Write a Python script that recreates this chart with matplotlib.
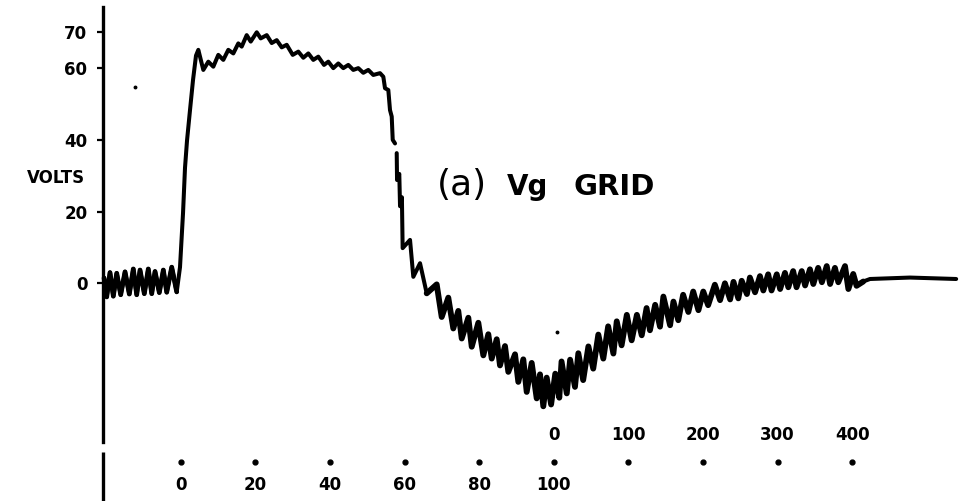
import numpy as np
import matplotlib
matplotlib.use("Agg")
import matplotlib.pyplot as plt

# ---- data (time in lower-scale units, volts) ----
baseline_t = [-20.56, -19.84, -18.96, -18.07, -17.16, -16.09, -14.93, -13.78, -12.71, -11.80,
              -10.91, -9.76, -8.69, -7.77, -6.89, -5.74, -4.66, -3.75, -2.41, -1.07]
baseline_v = [1.5, -3.8, 3.0, -3.6, 2.8, -3.2, 3.2, -3.0, 4.0, -3.2,
              3.7, -2.9, 4.0, -2.9, 3.3, -2.6, 3.7, -2.5, 4.5, -2.4]

rise_t = [-0.19, 0.62, 1.15, 1.69, 2.49, 3.30, 4.10]
rise_v = [4.5, 19.6, 32.2, 39.8, 48.3, 56.7, 63.5]

plateau_t = [4.72, 6.06, 7.40, 8.74, 10.08, 11.42, 12.76, 14.10, 15.44, 16.35,
             17.69, 18.77, 20.38, 21.45, 23.06, 24.40, 25.74, 27.08, 28.42, 30.03,
             31.53, 32.87, 34.21, 35.55, 36.89, 38.42, 39.57, 40.91, 42.25, 43.59,
             44.93, 46.27, 47.61, 48.95, 50.29, 51.63, 53.43, 54.32]
plateau_v = [65.1, 59.5, 61.8, 60.4, 63.7, 62.3, 65.1, 64.1, 66.9, 66.0,
             69.2, 67.4, 70.0, 68.3, 69.2, 67.0, 67.8, 65.8, 66.5, 63.7,
             64.6, 62.9, 64.1, 62.3, 63.2, 60.9, 61.8, 60.0, 61.3, 60.0,
             60.9, 59.5, 60.0, 58.7, 59.5, 58.1, 58.6, 57.6]

fall_t = [54.77, 55.66, 56.11, 56.57, 56.84, 57.46, np.nan,
          57.91, 58.00, 58.60, 58.80, 59.30, 59.50, 61.48, 62.36, 64.16, 65.95]
fall_v = [54.4, 53.9, 48.3, 46.5, 40.0, 39.0, np.nan,
          36.3, 28.8, 30.5, 21.5, 24.0, 9.8, 12.1, 1.8, 5.6, -2.8]

descent_t = [65.95, 68.63, 69.97, 71.74, 73.08, 74.42, 75.34, 77.11, 78.02, 79.79, 81.13,
             82.47, 83.38, 84.72, 85.60, 86.94, 87.83, 89.63, 90.51, 91.85, 92.76,
             94.10, 95.44, 96.33, 97.21, 98.12, 99.30]
descent_v = [-2.8, -0.3, -9.4, -4.0, -12.6, -7.7, -15.4, -9.6, -17.7, -11.0, -20.1,
             -14.2, -21.0, -15.6, -22.9, -17.5, -24.7, -19.8, -27.5, -21.2, -30.3,
             -22.2, -32.1, -25.4, -34.3, -26.3, -33.8]

recovery_t = [100.42, 101.5, 102.1, 103.5, 104.4, 105.7, 106.6, 107.9, 109.3, 110.6,
              111.96, 113.3, 114.6, 116.0, 116.9, 118.2, 119.6, 120.9, 122.3, 123.6,
              124.9, 125.8, 127.2, 128.5, 129.4, 131.2, 132.1, 133.4, 134.7, 136.1,
              137.4, 138.8, 140.1, 141.4, 143.2, 144.6, 145.9, 147.3, 148.2, 149.5,
              150.4, 151.8, 152.6, 153.98, 155.3, 156.2, 157.5, 158.4, 159.8, 160.7,
              162.0, 162.9, 164.2, 165.1, 166.5, 167.4, 168.7, 169.6, 170.9, 171.9,
              173.2, 174.1, 175.4, 176.3, 178.1, 179.0, 180.3, 181.2, 183.0]
recovery_v = [-25.2, -31.9, -21.8, -30.7, -21.3, -28.9, -19.5, -27.0, -17.6, -23.8,
              -14.3, -21.0, -12.0, -19.6, -10.6, -17.3, -8.8, -15.9, -8.8, -14.5,
              -6.9, -13.1, -6.0, -12.1, -3.7, -11.7, -5.1, -10.3, -3.2, -8.0,
              -2.3, -7.5, -2.3, -6.1, -0.4, -4.7, 0.0, -4.5, 0.4, -4.2,
              0.7, -3.0, 1.6, -2.5, 2.0, -2.0, 2.5, -2.0, 2.5, -1.6,
              2.9, -1.1, 3.4, -1.1, 3.4, -0.6, 3.9, -0.2, 4.3, 0.3,
              4.8, -0.2, 4.3, 0.3, 4.8, -1.6, 2.6, -0.7, 0.5]

tail_t = [184.8, 195.5, 207.9]
tail_v = [1.2, 1.6, 1.2]

speck_t = [-12.23, 100.75]
speck_v = [54.8, -13.5]

y_ticks = [0, 20, 40, 60, 70]
lower_ticks = [0, 20, 40, 60, 80, 100]
upper_ticks = [0, 100, 200, 300, 400]
UPPER_ORIGIN = 100     # lower-scale position where the upper scale starts
UPPER_FACTOR = 0.2     # lower-scale units per upper-scale unit

# ---- figure ----
fig = plt.figure(figsize=(9.59, 5.01), dpi=100)
ax = fig.add_axes([0, 0, 1, 1])
ax.set_xlim(-48.45, 208.66)
ax.set_ylim(-60.71, 79.0)

for s in ['top', 'right', 'bottom']:
    ax.spines[s].set_visible(False)
AXIS_T = -20.75
ax.spines['left'].set_position(('data', AXIS_T))
ax.spines['left'].set_bounds(-44.3, 77.0)
ax.spines['left'].set_linewidth(2.4)
ax.set_xticks([])
ax.set_yticks(y_ticks)
ax.set_yticklabels([str(v) for v in y_ticks])
ax.tick_params(axis='y', direction='out', length=4.5, width=1.6, pad=7, labelsize=12)
for lab in ax.get_yticklabels():
    lab.set_fontweight('bold')
ax.plot([AXIS_T, AXIS_T], [-47.0, -62.0], color='black', lw=2.4, clip_on=False,
        solid_capstyle='butt')

kw = dict(color='black', solid_joinstyle='round', solid_capstyle='round')
t_main = np.concatenate([baseline_t, rise_t, plateau_t, fall_t])
v_main = np.concatenate([baseline_v, rise_v, plateau_v, fall_v])
ax.plot(t_main, v_main, lw=2.9, **kw)
ax.plot(baseline_t, baseline_v, lw=3.4, **kw)
t_rip = np.concatenate([descent_t, recovery_t])
v_rip = np.concatenate([descent_v, recovery_v])
ax.plot(t_rip, v_rip, lw=4.2, **kw)
ax.plot(np.concatenate([recovery_t[-1:], tail_t]), np.concatenate([recovery_v[-1:], tail_v]),
        lw=2.9, **kw)

ax.plot(speck_t, speck_v, 'o', color='black', ms=1.8)

# time scale dots and labels
upper_pos = [UPPER_ORIGIN + u * UPPER_FACTOR for u in upper_ticks]
dot_pos = sorted(set(lower_ticks) | set(upper_pos))
ax.plot(dot_pos, [-49.7] * len(dot_pos), 'o', color='black', ms=3.5)
for val in lower_ticks:
    ax.text(val, -56.2, str(val), ha='center', va='center', fontsize=12, fontweight='bold')
for val, pos in zip(upper_ticks, upper_pos):
    ax.text(pos, -42.3, str(val), ha='center', va='center', fontsize=12, fontweight='bold')

ax.text(-25.66, 29.4, "VOLTS", ha='right', va='center', fontsize=12, fontweight='bold')
ax.text(68.71, 24.6, "(a)", ha='left', va='baseline', fontsize=26)
ax.text(87.5, 24.6, "Vg", ha='left', va='baseline', fontsize=20, fontweight='bold')
ax.text(105.2, 24.6, "GRID", ha='left', va='baseline', fontsize=21, fontweight='bold')

fig.savefig("out.png", dpi=100, facecolor='white')
